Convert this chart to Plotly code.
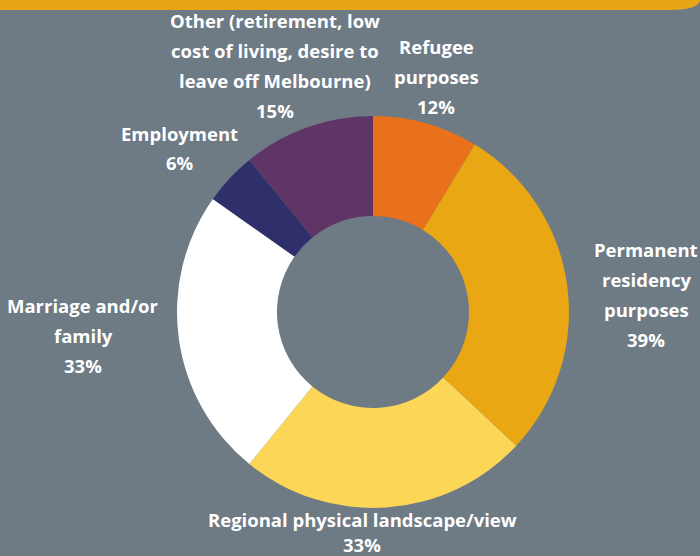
import plotly.graph_objects as go

# Data
categories = ["Refugee purposes", "Permanent residency purposes",
              "Regional physical landscape/view", "Marriage and/or family",
              "Employment", "Other (retirement, low cost of living, desire to leave off Melbourne)"]
values = [12, 39, 33, 33, 6, 15]
colors = ["#e9711c", "#e8a713", "#fcd757", "#ffffff", "#2f2f6b", "#5e3566"]
label_lines = [
    ["Refugee", "purposes"],
    ["Permanent", "residency", "purposes"],
    ["Regional physical landscape/view"],
    ["Marriage and/or", "family"],
    ["Employment"],
    ["Other (retirement, low", "cost of living, desire to", "leave off Melbourne)"],
]

W, H = 700, 556
BG = "#6e7a84"
cx, cy, r = 373, 312, 196

# label anchor (center x, first line y) in pixels, line spacing per label
label_pos = [(436, 46, 30), (646, 249, 30), (362, 519, 25), (83, 305, 30), (180, 133, 30), (275, 20, 30)]

fig = go.Figure()
fig.add_trace(go.Pie(
    labels=categories, values=values, hole=0.49, sort=False,
    direction="clockwise", rotation=0,
    marker=dict(colors=colors, line=dict(width=0)),
    textinfo="none", hoverinfo="label+value",
    domain=dict(x=[(cx - r) / W, (cx + r) / W], y=[1 - (cy + r) / H, 1 - (cy - r) / H]),
    showlegend=False,
))

annotations = []
for lines, v, (px, py, ls) in zip(label_lines, values, label_pos):
    for i, t in enumerate(lines + [f"{v}%"]):
        annotations.append(dict(
            x=px / W, y=1 - (py + i * ls) / H, xref="paper", yref="paper",
            text=t, showarrow=False, xanchor="center", yanchor="middle",
            font=dict(family="Open Sans", size=18.5, color="white", weight="bold"),
        ))

def P(x, y):
    return f"{x / W:.5f},{1 - y / H:.5f}"

band = f"M {P(0,-2)} L {P(700,-2)} L {P(700,1)} Q {P(697,10)} {P(670,10)} L {P(0,10)} Z"

fig.update_layout(
    width=W, height=H, margin=dict(l=0, r=0, t=0, b=0),
    paper_bgcolor=BG, plot_bgcolor=BG,
    annotations=annotations,
    shapes=[dict(type="path", path=band, xref="paper", yref="paper",
                 fillcolor="#e8a515", line=dict(width=0))],
)

fig.write_html("out.html", config={"displayModeBar": False},
               post_script="document.body.style.margin='0';document.body.style.overflow='hidden';")
